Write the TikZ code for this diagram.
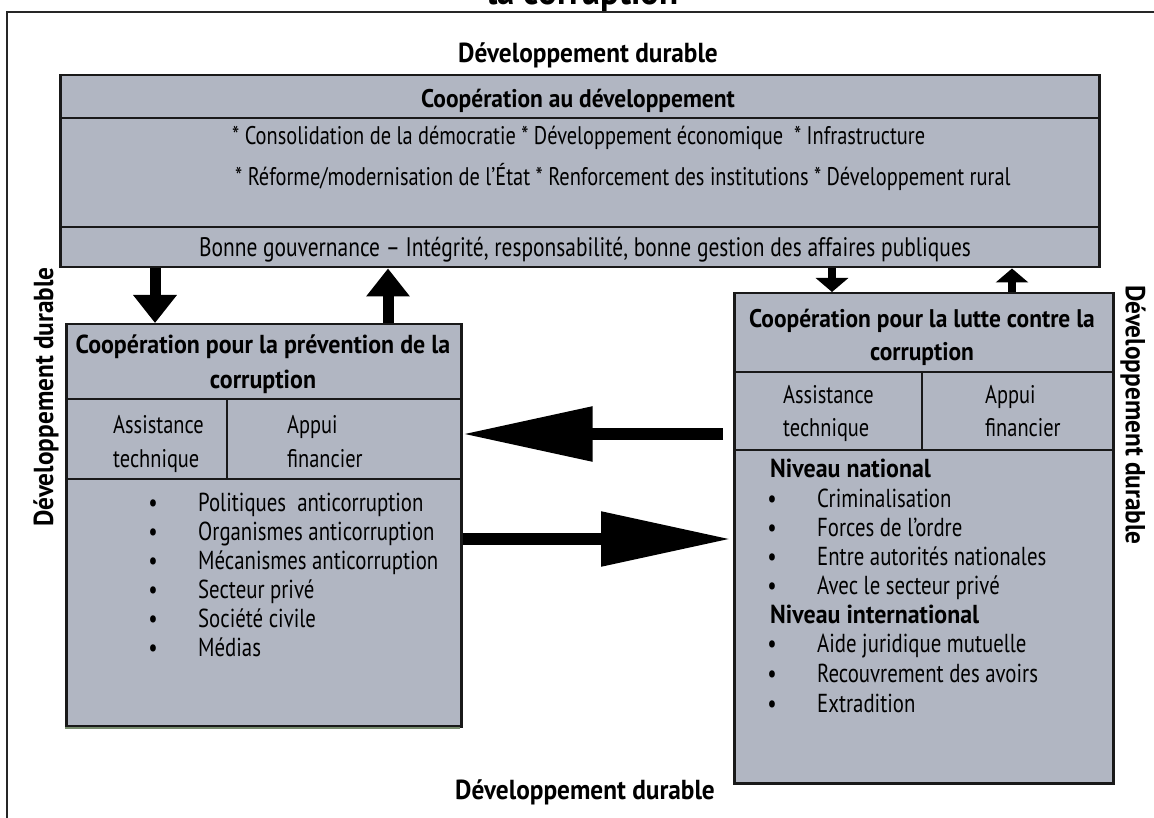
\documentclass[tikz,border=0pt]{standalone}
\usepackage{fontspec}
\setmainfont{PT Sans}[FakeStretch=0.80]
\newfontfamily\bcond{PT Sans}[FakeStretch=0.92]
\usetikzlibrary{arrows.meta,calc}
\definecolor{boxfill}{RGB}{177,182,194}
\definecolor{greenline}{RGB}{120,140,110}
\tikzset{
  box/.style={draw=black!90, line width=2.5pt, fill=boxfill, inner sep=0pt, anchor=north west},
  sepline/.style={draw=black!90, line width=2pt},
  frame/.style={draw=black!85, line width=2pt},
  title/.style={font=\bcond\bfseries\fontsize{27.5}{30}\selectfont, inner sep=0pt},
  hdr/.style={font=\bcond\bfseries\fontsize{25.5}{30}\selectfont, inner sep=0pt, anchor=base},
  lhdr/.style={font=\bcond\bfseries\fontsize{26}{30}\selectfont, inner sep=0pt, anchor=base},
  body/.style={font=\fontsize{25.5}{30}\selectfont, inner sep=0pt, anchor=base west},
  bonnefont/.style={font=\fontsize{26.8}{30}\selectfont, inner sep=0pt, anchor=base},
  item/.style={font=\fontsize{26}{30}\selectfont, inner sep=0pt, anchor=base west},
  bitem/.style={font=\bcond\bfseries\fontsize{26}{30}\selectfont, inner sep=0pt, anchor=base west},
  bul/.style={font=\fontsize{26}{30}\selectfont, inner sep=0pt, anchor=base},
  bigarrow/.style={line width=12pt, -{Triangle[length=130pt,width=52pt]}},
  midarrow/.style={line width=11pt, -{Triangle[length=28pt,width=42pt]}},
  smallarrow/.style={line width=8pt, -{Triangle[length=14pt,width=32pt]}},
}
\begin{document}
\begin{tikzpicture}[x=1pt,y=-1pt]
\useasboundingbox (0,0) rectangle (1154,818);
\fill[white] (0,0) rectangle (1154,818);

% cut-off title
\node[font=\bcond\bfseries\fontsize{38}{42}\selectfont, inner sep=0pt, anchor=base] (toptitle) at (583,5) {la corruption};

% outer frame
\draw[frame] (7,818) -- (7,12) -- (1154,12);

% titles "Développement durable"
\node[title, anchor=base] (ddtop) at (588,63) {Développement durable};
\node[title, anchor=base] (ddbot) at (585,799) {Développement durable};
\node[title, rotate=90] (ddleft) at (46,397) {Développement durable};
\node[title, rotate=-90] (ddright) at (1133,415) {Développement durable};

% top box
\node[box, minimum width=1039pt, minimum height=192pt] (top) at (59,74) {};
\draw[sepline] (59,118) -- (1098,118);
\draw[sepline] (59,227) -- (1098,227);
\node[hdr] (tophdr) at (578,108) {Coopération au développement};
\node[body] (topl1) at (232,145) {* Consolidation de la démocratie * Développement économique\ \ * Infrastructure};
\node[body] (topl2) at (235,186) {* Réforme/modernisation de l’État * Renforcement des institutions * Développement rural};
\node[bonnefont] (bonne) at (585,257) {Bonne gouvernance – Intégrité, responsabilité, bonne gestion des affaires publiques};

% left box
\node[box, minimum width=395pt, minimum height=402pt] (lbox) at (65,323) {};
\draw[sepline] (65,399) -- (460,399);
\draw[sepline] (65,479) -- (460,479);
\draw[sepline] (227,399) -- (227,479);
\node[lhdr] (lhdr1) at (263,353) {Coopération pour la prévention de la};
\node[lhdr] (lhdr2) at (263,388) {corruption};
\node[body] (lassist1) at (113,433) {Assistance};
\node[body] (lassist2) at (113,467) {technique};
\node[body] (lappui1) at (287,433) {Appui};
\node[body] (lappui2) at (287,467) {financier};
\foreach \t [count=\i from 0] in {Politiques\ \ anticorruption, Organismes anticorruption, Mécanismes anticorruption, Secteur privé, Société civile, Médias} {
  \node[bul] (lb\i) at (153,511+29*\i) {•};
  \node[item] (li\i) at (198,511+29*\i) {\t};
}
\draw[greenline, line width=1.5pt] (65,728) -- (460,728);

% right box
\node[box, minimum width=379pt, minimum height=490pt] (rbox) at (733,292) {};
\draw[sepline] (733,372) -- (1112,372);
\draw[sepline] (733,450) -- (1112,450);
\draw[sepline] (922,372) -- (922,450);
\node[hdr] (rhdr1) at (922,327) {Coopération pour la lutte contre la};
\node[hdr] (rhdr2) at (922,360) {corruption};
\node[body] (rassist1) at (783,403) {Assistance};
\node[body] (rassist2) at (783,436) {technique};
\node[body] (rappui1) at (985,403) {Appui};
\node[body] (rappui2) at (985,436) {financier};
\node[bitem] (rnat) at (770,477) {Niveau national};
\foreach \t [count=\i from 0] in {Criminalisation, Forces de l’ordre, Entre autorités nationales, Avec le secteur privé} {
  \node[bul] (rb\i) at (772,507+29*\i) {•};
  \node[item] (ri\i) at (817,507+29*\i) {\t};
}
\node[bitem] (rint) at (770,623) {Niveau international};
\foreach \t [count=\i from 0] in {Aide juridique mutuelle, Recouvrement des avoirs, Extradition} {
  \node[bul] (rc\i) at (772,652+30*\i) {•};
  \node[item] (rj\i) at (817,652+30*\i) {\t};
}

% connectors
\coordinate (xa) at (155,0);
\coordinate (xb) at (388,0);
\coordinate (xc) at (832,0);
\coordinate (xd) at (1012,0);
\coordinate (ya) at (0,434);
\coordinate (yb) at (0,539);
\draw[midarrow] (top.south -| xa) -- (lbox.north -| xa);
\draw[midarrow] (lbox.north -| xb) -- (top.south -| xb);
\draw[smallarrow] (top.south -| xc) -- (rbox.north -| xc);
\draw[smallarrow] (rbox.north -| xd) -- (top.south -| xd);
\draw[bigarrow] ([xshift=-10pt]rbox.west |- ya) -- (lbox.east |- ya);
\draw[bigarrow] (lbox.east |- yb) -- ([xshift=-2pt]rbox.west |- yb);
\end{tikzpicture}
\end{document}
